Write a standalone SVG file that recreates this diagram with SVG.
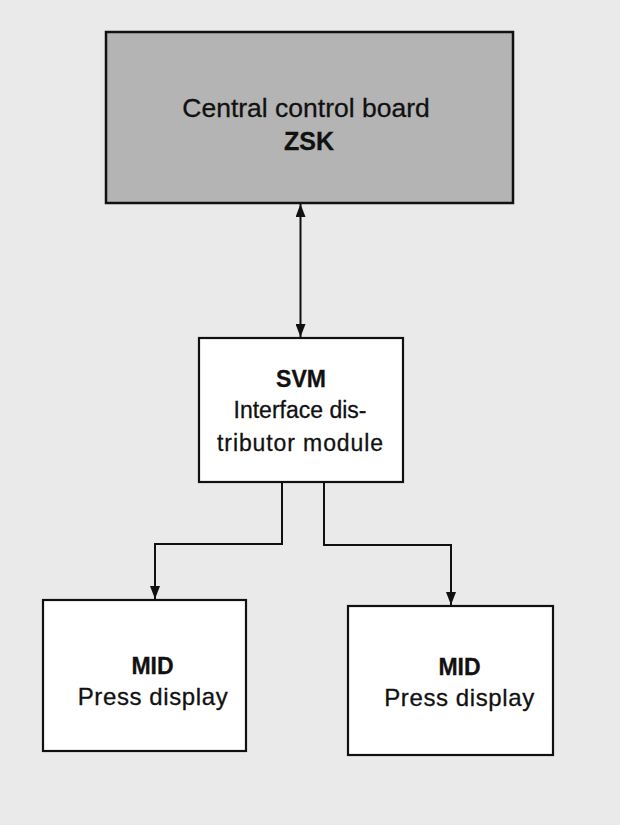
<svg xmlns="http://www.w3.org/2000/svg" width="620" height="825" viewBox="0 0 620 825">
<style>
.box{fill:#ffffff;stroke:#111;stroke-width:2.2}
.top{fill:#b4b4b4;stroke:#111;stroke-width:2.5}
text{font-family:"Liberation Sans",Arial,sans-serif;fill:#111;stroke:#111;stroke-width:0.3}
.b{font-weight:bold}
.line{fill:none;stroke:#111;stroke-width:2}
</style>
<defs>
<marker id="ah" viewBox="0 0 13 10" refX="13" refY="5" markerWidth="13" markerHeight="10" markerUnits="userSpaceOnUse" orient="auto-start-reverse">
<path d="M0,0 L13,5 L0,10 Z" fill="#111"/>
</marker>
</defs>
<rect width="620" height="825" fill="#eaeaea"/>
<g id="zsk">
<rect class="top" x="106" y="32" width="407" height="171"/>
<text x="306" y="117" font-size="26.5" text-anchor="middle">Central control board</text>
<text class="b" x="309" y="150" font-size="25" text-anchor="middle">ZSK</text>
</g>
<g id="svm">
<rect class="box" x="199" y="338" width="204" height="144"/>
<text class="b" x="301" y="387" font-size="23" text-anchor="middle">SVM</text>
<text x="300" y="418" font-size="23" text-anchor="middle">Interface dis-</text>
<text x="300.5" y="451" font-size="23" text-anchor="middle" letter-spacing="0.9">tributor module</text>
</g>
<g id="mid1">
<rect class="box" x="43" y="600" width="203" height="151"/>
<text class="b" x="152.5" y="674" font-size="23" text-anchor="middle">MID</text>
<text x="153" y="705" font-size="24" text-anchor="middle" letter-spacing="0.6">Press display</text>
</g>
<g id="mid2">
<rect class="box" x="348" y="606" width="205" height="149"/>
<text class="b" x="459.5" y="675" font-size="23" text-anchor="middle">MID</text>
<text x="459.5" y="706" font-size="24" text-anchor="middle" letter-spacing="0.6">Press display</text>
</g>
<g id="connectors">
<line class="line" x1="300.5" y1="204" x2="300.5" y2="337" marker-start="url(#ah)" marker-end="url(#ah)"/>
<path class="line" d="M282,482 V544 H155 V599" marker-end="url(#ah)"/>
<path class="line" d="M324,482 V545 H451 V605" marker-end="url(#ah)"/>
</g>
</svg>
